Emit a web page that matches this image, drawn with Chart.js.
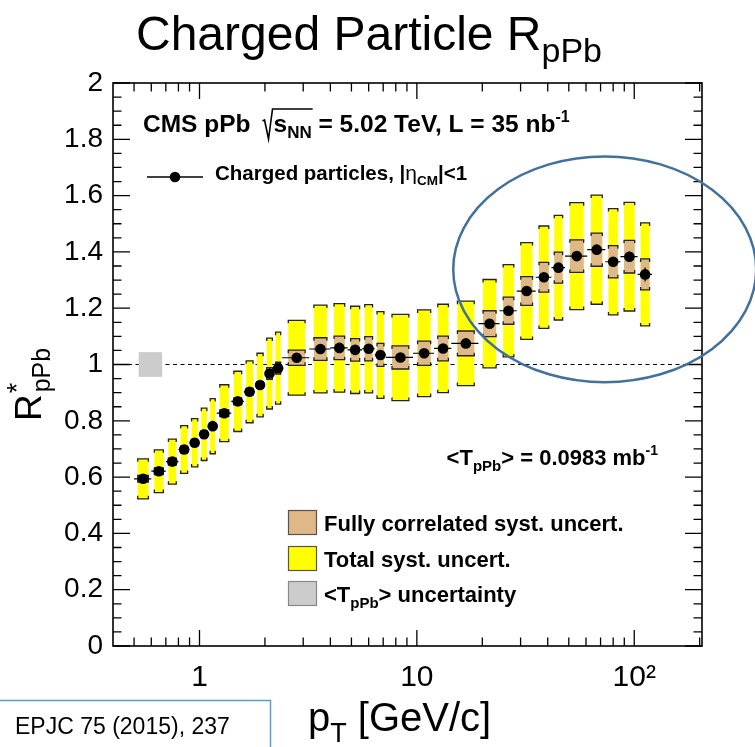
<!DOCTYPE html>
<html>
<head>
<meta charset="utf-8">
<title>Charged Particle RpPb</title>
<script src="https://cdn.jsdelivr.net/npm/chart.js@4.4.0/dist/chart.umd.min.js"></script>
<style>
  html, body { margin: 0; padding: 0; background: #fff; }
  #wrap { width: 755px; height: 747px; position: relative; }
</style>
</head>
<body>
<div id="wrap"><canvas id="rppbChart" width="755" height="747"></canvas></div>
<script>
// Data (EPJC 75 (2015) 237)

// pT bin edges and bin centres [GeV/c]
const binEdges = [0.5, 0.6, 0.7, 0.8, 0.9, 1.0, 1.1, 1.2, 1.4, 1.6, 1.8, 2.0, 2.2, 2.4, 3.2, 4.0, 4.8, 5.6, 6.4, 7.2,
                  9.6, 12.0, 14.4, 19.2, 24.0, 28.8, 35.2, 41.6, 48.0, 60.8, 73.6, 86.4, 103.6, 120.8];
const ptCenters = [0.55, 0.65, 0.75, 0.85, 0.95, 1.05, 1.15, 1.3, 1.5, 1.7, 1.9, 2.1, 2.3, 2.8, 3.6, 4.4, 5.2, 6.0, 6.8,
                   8.4, 10.8, 13.2, 16.8, 21.6, 26.4, 32.0, 38.4, 44.8, 54.4, 67.2, 80.0, 95.0, 112.2];

// R*pPb and its uncertainties (half-heights)
const rpPb = [0.594, 0.621, 0.655, 0.698, 0.722, 0.752, 0.781, 0.827, 0.869, 0.903, 0.927, 0.968, 0.987, 1.024,
              1.055, 1.059, 1.052, 1.056, 1.034, 1.025, 1.040, 1.057, 1.075, 1.145, 1.191, 1.261, 1.310, 1.344,
              1.385, 1.408, 1.365, 1.383, 1.320];
const statErr = [0.002, 0.002, 0.002, 0.002, 0.002, 0.002, 0.002, 0.002, 0.002, 0.002, 0.002, 0.002, 0.002, 0.002,
                 0.002, 0.002, 0.003, 0.003, 0.003, 0.003, 0.003, 0.004, 0.004, 0.005, 0.006, 0.007, 0.008, 0.009,
                 0.011, 0.014, 0.016, 0.018, 0.025];
const totalSyst = [0.071, 0.076, 0.080, 0.085, 0.086, 0.093, 0.098, 0.101, 0.107, 0.110, 0.113, 0.126, 0.128, 0.133,
                   0.156, 0.157, 0.155, 0.157, 0.154, 0.153, 0.154, 0.157, 0.150, 0.157, 0.164, 0.172, 0.182, 0.186,
                   0.190, 0.194, 0.189, 0.193, 0.183];
const corrSyst = [0.012, 0.012, 0.012, 0.012, 0.012, 0.012, 0.012, 0.012, 0.012, 0.012, 0.012, 0.021, 0.021, 0.027,
                  0.040, 0.042, 0.040, 0.043, 0.041, 0.041, 0.043, 0.044, 0.044, 0.046, 0.048, 0.051, 0.053, 0.055,
                  0.058, 0.059, 0.057, 0.058, 0.055];

// <TpPb> normalisation uncertainty, drawn at R = 1
const normUncert = 0.044;
const normBoxPt = [0.525, 0.673];

// axis ticks
const xTickValues = [1, 10, 100];
const xTickLabels = ['1', '10', '10\u00B2'];

// circled region (annotation), in data units
const ellipsePt = [14.7, 364];
const ellipseR = [0.937, 1.739];

const FONT = '"Liberation Sans", Arial, Helvetica, sans-serif';
const YELLOW = '#ffff00';
const TAN = '#deb887';
const GREY = '#cccccc';

function font(size, bold) {
    return (bold ? 'bold ' : '') + size + 'px ' + FONT;
}

// draw a run of text pieces (sub/superscripts), returns the end x
function drawRuns(ctx, x, y, runs, measureOnly) {
    runs.forEach(r => {
        ctx.font = font(r.size, r.bold);
        if (!measureOnly) ctx.fillText(r.t, x, y + (r.dy || 0));
        x += ctx.measureText(r.t).width + (r.gap || 0);
    });
    return x;
}

// filled box with ROOT-like bracket edges at top and bottom
function drawBox(ctx, x0, x1, yTop, yBot, fill) {
    ctx.fillStyle = fill;
    ctx.fillRect(x0, yTop, x1 - x0, yBot - yTop);
    const t = 3;
    ctx.strokeStyle = '#222';
    ctx.lineWidth = 1.3;
    ctx.beginPath();
    ctx.moveTo(x0, yTop + t); ctx.lineTo(x0, yTop); ctx.lineTo(x1, yTop); ctx.lineTo(x1, yTop + t);
    ctx.moveTo(x0, yBot - t); ctx.lineTo(x0, yBot); ctx.lineTo(x1, yBot); ctx.lineTo(x1, yBot - t);
    ctx.stroke();
}

// systematic boxes, bin-width bars, stat bars and the R = 1 line
const uncertaintyPlugin = {
    id: 'uncertainty',
    beforeDatasetsDraw(chart) {
        const { ctx, chartArea: a, scales: { x, y } } = chart;
        ctx.save();
        ctx.beginPath();
        ctx.rect(a.left, a.top, a.right - a.left, a.bottom - a.top);
        ctx.clip();

        // dashed line at unity
        const y1 = y.getPixelForValue(1);
        ctx.strokeStyle = '#000';
        ctx.lineWidth = 1.2;
        ctx.setLineDash([4, 3.5]);
        ctx.beginPath();
        ctx.moveTo(a.left, y1);
        ctx.lineTo(a.right, y1);
        ctx.stroke();
        ctx.setLineDash([]);

        // <TpPb> uncertainty box
        ctx.fillStyle = GREY;
        const gx0 = x.getPixelForValue(normBoxPt[0]);
        const gx1 = x.getPixelForValue(normBoxPt[1]);
        const gy0 = y.getPixelForValue(1 + normUncert);
        const gy1 = y.getPixelForValue(1 - normUncert);
        ctx.fillRect(gx0, gy0, gx1 - gx0, gy1 - gy0);

        ptCenters.forEach((pt, i) => {
            const px = x.getPixelForValue(pt);
            const half = 0.31 * (x.getPixelForValue(binEdges[i + 1]) - x.getPixelForValue(binEdges[i]));
            drawBox(ctx, px - half, px + half,
                y.getPixelForValue(rpPb[i] + totalSyst[i]), y.getPixelForValue(rpPb[i] - totalSyst[i]), YELLOW);
        });
        ptCenters.forEach((pt, i) => {
            const px = x.getPixelForValue(pt);
            const half = 0.31 * (x.getPixelForValue(binEdges[i + 1]) - x.getPixelForValue(binEdges[i]));
            drawBox(ctx, px - half, px + half,
                y.getPixelForValue(rpPb[i] + corrSyst[i]), y.getPixelForValue(rpPb[i] - corrSyst[i]), TAN);
        });

        // bin width and statistical error bars
        ctx.strokeStyle = '#000';
        ctx.lineWidth = 1.2;
        ctx.beginPath();
        ptCenters.forEach((pt, i) => {
            const py = y.getPixelForValue(rpPb[i]);
            ctx.moveTo(x.getPixelForValue(binEdges[i]), py);
            ctx.lineTo(x.getPixelForValue(binEdges[i + 1]), py);
            const px = x.getPixelForValue(pt);
            ctx.moveTo(px, y.getPixelForValue(rpPb[i] + statErr[i]));
            ctx.lineTo(px, y.getPixelForValue(rpPb[i] - statErr[i]));
        });
        ctx.stroke();
        ctx.restore();
    },

    // frame and inward ticks on all four sides
    afterDatasetsDraw(chart) {
        const { ctx, chartArea: a, scales: { x, y } } = chart;
        ctx.save();
        ctx.strokeStyle = '#000';
        ctx.lineWidth = 1.3;
        ctx.beginPath();
        x.ticks.forEach(t => {
            const lg = Math.log10(t.value);
            const sig = t.value / Math.pow(10, Math.floor(lg + 1e-9));
            if (Math.abs(sig - Math.round(sig)) > 1e-6) return;
            const px = x.getPixelForValue(t.value);
            if (px <= a.left + 0.5 || px >= a.right - 0.5) return;
            const len = Math.round(sig) === 1 ? 16 : 8.5;
            ctx.moveTo(px, a.bottom); ctx.lineTo(px, a.bottom - len);
            ctx.moveTo(px, a.top); ctx.lineTo(px, a.top + len);
        });
        const yt = y.ticks.map(t => t.value);
        yt.forEach((v, k) => {
            const py = y.getPixelForValue(v);
            ctx.moveTo(a.left, py); ctx.lineTo(a.left + 17, py);
            ctx.moveTo(a.right, py); ctx.lineTo(a.right - 17, py);
            if (k < yt.length - 1) {
                for (let j = 1; j < 4; j++) {
                    const pm = y.getPixelForValue(v + (yt[k + 1] - v) * j / 4);
                    ctx.moveTo(a.left, pm); ctx.lineTo(a.left + 8.5, pm);
                    ctx.moveTo(a.right, pm); ctx.lineTo(a.right - 8.5, pm);
                }
            }
        });
        ctx.stroke();
        ctx.lineWidth = 1.6;
        ctx.strokeRect(a.left, a.top, a.right - a.left, a.bottom - a.top);
        ctx.restore();
    },

    afterDraw(chart) {
        const { ctx, chartArea: a, scales: { x, y } } = chart;
        ctx.save();
        ctx.fillStyle = '#000';
        ctx.textBaseline = 'alphabetic';
        ctx.textAlign = 'left';

        // title
        const titleRuns = [{ t: 'Charged Particle R', size: 48 }, { t: 'pPb', size: 34, dy: 12 }];
        const tw = drawRuns(ctx, 0, 0, titleRuns, true);
        drawRuns(ctx, 369 - tw / 2, 50, titleRuns);

        // CMS label with sqrt(sNN)
        let cx = drawRuns(ctx, 143, 132, [{ t: 'CMS pPb', size: 24.5, bold: true }]);
        cx += 12;
        ctx.strokeStyle = '#000';
        ctx.lineWidth = 1.6;
        ctx.beginPath();
        ctx.moveTo(cx, 121); ctx.lineTo(cx + 2, 120);
        ctx.lineTo(cx + 6, 139); ctx.lineTo(cx + 10, 109);
        const sx = cx + 11;
        let ex = drawRuns(ctx, sx, 132, [{ t: 's', size: 24.5, bold: true }, { t: 'NN', size: 17, bold: true, dy: 6 }]);
        ctx.lineTo(ex + 1, 109);
        ctx.stroke();
        ex = drawRuns(ctx, ex, 132, [{ t: ' = 5.02 TeV, L = 35 nb', size: 24.5, bold: true },
                                     { t: '-1', size: 16, bold: true, dy: -10 }]);

        // legend entry for the data points
        ctx.lineWidth = 1.3;
        ctx.beginPath();
        ctx.moveTo(147, 177); ctx.lineTo(203, 177);
        ctx.stroke();
        ctx.beginPath();
        ctx.arc(175, 177, 5.3, 0, Math.PI * 2);
        ctx.fill();
        drawRuns(ctx, 215, 180, [{ t: 'Charged particles, |', size: 20.5, bold: true },
                                 { t: '\u03B7', size: 21 },
                                 { t: 'CM', size: 13.5, bold: true, dy: 5 },
                                 { t: '|<1', size: 20.5, bold: true }]);

        // <TpPb> value
        const tRuns = [{ t: '<T', size: 22, bold: true }, { t: 'pPb', size: 15, bold: true, dy: 6 },
                       { t: '> = 0.0983 mb', size: 22, bold: true }, { t: '-1', size: 14, bold: true, dy: -10 }];
        const tw2 = drawRuns(ctx, 0, 0, tRuns, true);
        drawRuns(ctx, 658 - tw2, 465, tRuns);

        // box legend
        const legend = [
            { fill: TAN, edge: '#555', y: 510, runs: [{ t: 'Fully correlated syst. uncert.', size: 22, bold: true }] },
            { fill: YELLOW, edge: '#555', y: 546, runs: [{ t: 'Total syst. uncert.', size: 22, bold: true }] },
            { fill: GREY, edge: '#888', y: 581, runs: [{ t: '<T', size: 22, bold: true },
                { t: 'pPb', size: 15, bold: true, dy: 6 }, { t: '> uncertainty', size: 22, bold: true }] }
        ];
        legend.forEach(e => {
            ctx.fillStyle = e.fill;
            ctx.fillRect(288, e.y, 29, 25);
            ctx.strokeStyle = e.edge;
            ctx.lineWidth = 1.2;
            ctx.strokeRect(288.5, e.y + 0.5, 28, 24);
            ctx.fillStyle = '#000';
            drawRuns(ctx, 324, e.y + 21, e.runs);
        });

        // x axis title
        let ax = drawRuns(ctx, 308, 731, [{ t: 'p', size: 40 }, { t: 'T', size: 27, dy: 11 }]);
        drawRuns(ctx, ax, 731, [{ t: ' [GeV/c]', size: 40 }]);

        // y axis title (rotated)
        ctx.save();
        ctx.translate(41, 421);
        ctx.rotate(-Math.PI / 2);
        const rEnd = drawRuns(ctx, 0, 0, [{ t: 'R', size: 37 }]);
        drawRuns(ctx, rEnd + 1, -15, [{ t: '*', size: 27 }]);
        drawRuns(ctx, rEnd + 2, 9, [{ t: 'pPb', size: 25 }]);
        ctx.restore();

        // circled high-pT region
        const e0 = x.getPixelForValue(ellipsePt[0]);
        const e1 = x.getPixelForValue(ellipsePt[1]);
        const f0 = y.getPixelForValue(ellipseR[1]);
        const f1 = y.getPixelForValue(ellipseR[0]);
        ctx.strokeStyle = '#41719c';
        ctx.lineWidth = 2.5;
        ctx.beginPath();
        ctx.ellipse((e0 + e1) / 2, (f0 + f1) / 2, (e1 - e0) / 2, (f1 - f0) / 2, 0, 0, Math.PI * 2);
        ctx.stroke();

        // reference box
        ctx.strokeStyle = '#5b9bd5';
        ctx.lineWidth = 1.5;
        ctx.strokeRect(-2, 700.5, 272.5, 60);
        ctx.fillStyle = '#000';
        drawRuns(ctx, 15, 734, [{ t: 'EPJC 75 (2015), 237', size: 23 }]);
        ctx.restore();
    }
};

const ctx = document.getElementById('rppbChart').getContext('2d');

const rppbChart = new Chart(ctx, {
    type: 'scatter',
    data: {
        datasets: [
            {
                label: 'Charged particles, |eta_CM|<1',
                data: ptCenters.map((pt, i) => ({ x: pt, y: rpPb[i] })),
                pointRadius: 5.3,
                pointBackgroundColor: '#000',
                pointBorderColor: '#000',
                pointBorderWidth: 0,
                showLine: false,
            },
        ],
    },
    options: {
        responsive: false,
        animation: false,
        devicePixelRatio: 1,
        layout: { padding: { left: 0, right: 53, top: 83, bottom: 0 } },
        plugins: {
            legend: { display: false },
            tooltip: { enabled: false },
        },
        scales: {
            x: {
                type: 'logarithmic',
                min: 0.4,
                max: 205,
                grid: { display: false, drawTicks: false },
                border: { display: false },
                ticks: {
                    autoSkip: false,
                    maxRotation: 0,
                    padding: 14,
                    color: '#000',
                    font: { family: FONT, size: 30 },
                    callback: (v) => {
                        const k = xTickValues.findIndex(t => Math.abs(t - v) < 1e-9 * t);
                        return k >= 0 ? xTickLabels[k] : '';
                    },
                },
                afterFit: (s) => { s.height = 101; },
            },
            y: {
                min: 0,
                max: 2,
                grid: { display: false, drawTicks: false },
                border: { display: false },
                ticks: {
                    stepSize: 0.2,
                    padding: 10,
                    color: '#000',
                    font: { family: FONT, size: 28 },
                    callback: (v) => String(+v.toFixed(1)),
                },
                afterFit: (s) => { s.width = 113; },
            },
        },
    },
    plugins: [uncertaintyPlugin],
});
</script>
</body>
</html>
